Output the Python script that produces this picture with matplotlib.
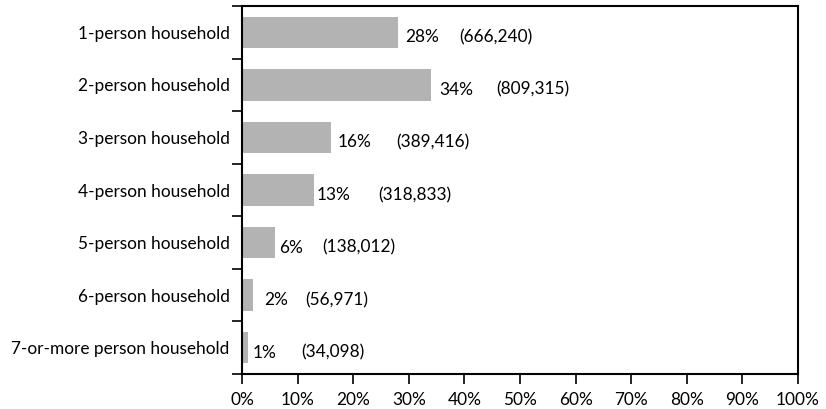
import matplotlib
matplotlib.use("Agg")
import matplotlib.pyplot as plt
from matplotlib.ticker import FixedLocator, FixedFormatter
import matplotlib.transforms as mtransforms

plt.rcParams['font.family'] = ['Lato', 'DejaVu Sans']

categories = [
    "1-person household",
    "2-person household",
    "3-person household",
    "4-person household",
    "5-person household",
    "6-person household",
    "7-or-more person household",
]
shares = [28, 34, 16, 13, 6, 2, 1]
counts = [666240, 809315, 389416, 318833, 138012, 56971, 34098]
x_ticks = list(range(0, 101, 10))

# label offsets in pixels: gap after bar end, then gap to the count label
pct_gap = [7, 8, 7, 2, 4, 11, 5]
count_gap = [55, 57, 58, 62, 43, 41, 49]

FS = 12.4

fig = plt.figure(figsize=(8.26, 4.09), dpi=100)
ax = fig.add_axes([242 / 826, 1 - 374 / 409, (798 - 242) / 826, (374 - 6) / 409])

y = list(range(len(categories)))
ax.barh(y, shares, height=0.6, color="#b3b3b3", edgecolor="none")

ax.set_xlim(0, 100)
ax.set_ylim(len(categories) - 0.5, -0.5)

for i, (s, c) in enumerate(zip(shares, counts)):
    t1 = mtransforms.offset_copy(ax.transData, fig=fig, x=pct_gap[i], y=-5, units="dots")
    ax.text(s, i, f"{s}%", transform=t1, ha="left", va="center", fontsize=FS)
    t2 = mtransforms.offset_copy(ax.transData, fig=fig, x=pct_gap[i] + count_gap[i], y=-5, units="dots")
    ax.text(s, i, f"({c:,})", transform=t2, ha="left", va="center", fontsize=FS)

ax.set_xticks(x_ticks)
ax.set_xticklabels([f"{v}%" for v in x_ticks], fontsize=FS)
ax.tick_params(axis="x", direction="out", length=7.2, width=1.2, pad=6)

ax.yaxis.set_major_locator(FixedLocator([i - 0.5 for i in range(len(categories) + 1)]))
ax.yaxis.set_major_formatter(FixedFormatter([""] * (len(categories) + 1)))
ax.yaxis.set_minor_locator(FixedLocator(y))
ax.yaxis.set_minor_formatter(FixedFormatter(categories))
ax.tick_params(axis="y", which="major", direction="out", length=7.2, width=1.2)
ax.tick_params(axis="y", which="minor", length=0, pad=9, labelsize=FS)

for sp in ax.spines.values():
    sp.set_linewidth(1.5)
    sp.set_color("black")

fig.savefig("out.png", dpi=100)
